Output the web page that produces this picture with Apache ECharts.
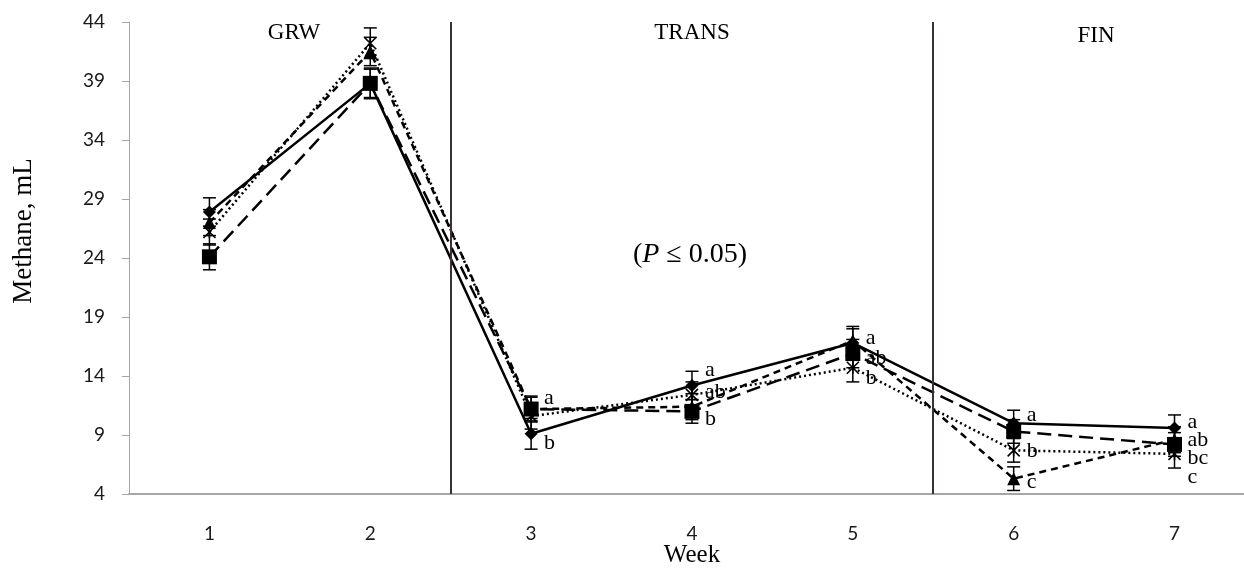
<!DOCTYPE html>
<html>
<head>
<meta charset="utf-8">
<title>Methane by week</title>
<script src="https://cdn.jsdelivr.net/npm/echarts@6/dist/echarts.min.js"></script>
<style>
  html, body { margin: 0; padding: 0; background: #fff; }
  #chart { width: 1244px; height: 569px; }
</style>
</head>
<body>
<div id="chart"></div>
<script>
// Weeks on the x axis and the methane readings (mL) per treatment
const weeks = [1, 2, 3, 4, 5, 6, 7];
const yTicks = [4, 9, 14, 19, 24, 29, 34, 39, 44];

const diamondVals  = [27.9, 38.8, 9.1, 13.2, 16.8, 10.0, 9.6];
const squareVals   = [24.1, 38.8, 11.2, 11.0, 15.9, 9.3, 8.2];
const triangleVals = [27.0, 41.5, 11.2, 11.4, 17.0, 5.3, 8.6];
const crossVals    = [26.2, 42.2, 10.6, 12.4, 14.7, 7.7, 7.4];

// Standard errors drawn as whiskers
const diamondSE  = [1.2, 1.2, 1.3, 1.2, 1.2, 1.1, 1.1];
const squareSE   = [1.1, 1.3, 1.0, 1.0, 1.2, 1.0, 1.0];
const triangleSE = [1.1, 1.2, 1.1, 1.1, 1.2, 1.0, 1.1];
const crossSE    = [1.1, 1.3, 1.1, 1.1, 1.2, 1.0, 1.2];

// Significance letters: week, anchor value, letter
const sigWeeks   = [3, 3, 4, 4, 4, 5, 5, 5, 6, 6, 6, 7, 7, 7, 7];
const sigValues  = [12.1, 8.3, 14.5, 12.6, 10.3, 17.2, 15.5, 13.8, 10.7, 7.6, 5.0, 10.1, 8.6, 7.05, 5.4];
const sigLetters = ['a', 'b', 'a', 'ab', 'b', 'a', 'ab', 'b', 'a', 'b', 'c', 'a', 'ab', 'bc', 'c'];

// Phase boundaries and names
const phaseBreaks = [2.5, 5.5];
const phaseNames = ['GRW', 'TRANS', 'FIN'];

// Visible week range: half a week before week 1, axis runs off the right edge
const X_MIN = 0.5;
const X_MAX = 7.432;

const SERIF = "'Liberation Serif', 'Times New Roman', serif";
const SANS = "Lato, 'Liberation Sans', sans-serif";

const chart = echarts.init(document.getElementById('chart'));

function pairs(vals) { return weeks.map((w, i) => [w, vals[i]]); }

function errData(vals, se) {
  return weeks.map((w, i) => [w, vals[i] - se[i], vals[i] + se[i]]);
}

function errorSeries(vals, se) {
  return {
    type: 'custom',
    silent: true,
    z: 2,
    data: errData(vals, se),
    renderItem(params, api) {
      const x = api.value(0);
      const lo = api.coord([x, api.value(1)]);
      const hi = api.coord([x, api.value(2)]);
      const w = 6.5;
      const st = { stroke: '#000', lineWidth: 1.5 };
      return {
        type: 'group',
        children: [
          { type: 'line', shape: { x1: lo[0], y1: lo[1], x2: hi[0], y2: hi[1] }, style: st },
          { type: 'line', shape: { x1: lo[0] - w, y1: lo[1], x2: lo[0] + w, y2: lo[1] }, style: st },
          { type: 'line', shape: { x1: hi[0] - w, y1: hi[1], x2: hi[0] + w, y2: hi[1] }, style: st }
        ]
      };
    }
  };
}

function lineSeries(vals, symbol, size, dash, extra) {
  return Object.assign({
    type: 'line',
    data: pairs(vals),
    symbol: symbol,
    symbolSize: size,
    z: 3,
    lineStyle: { color: '#000', width: 2.5, type: dash },
    itemStyle: { color: '#000' },
    emphasis: { disabled: true },
    animation: false
  }, extra || {});
}

const option = {
  animation: false,
  grid: { left: 129, right: 0, top: 22, bottom: 75, containLabel: false },
  xAxis: {
    type: 'value',
    min: X_MIN,
    max: X_MAX,
    axisLine: { show: true, lineStyle: { color: '#a6a6a6', width: 2 } },
    axisTick: { show: false },
    splitLine: { show: false },
    axisLabel: {
      customValues: weeks,
      margin: 30,
      color: '#1a1a1a',
      fontFamily: SANS,
      fontSize: 19
    }
  },
  yAxis: {
    type: 'value',
    min: 4,
    max: 44,
    axisLine: { show: true, lineStyle: { color: '#a6a6a6', width: 1 } },
    axisTick: { show: true, customValues: yTicks, length: 7, lineStyle: { color: '#a6a6a6' } },
    splitLine: { show: false },
    axisLabel: {
      customValues: yTicks,
      margin: 24,
      color: '#1a1a1a',
      fontFamily: SANS,
      fontSize: 19
    }
  },
  graphic: [
    {
      type: 'text', x: 24, y: 231, rotation: Math.PI / 2,
      style: { text: 'Methane, mL', fontFamily: SERIF, fontSize: 27, fill: '#000', align: 'center', verticalAlign: 'middle' }
    },
    {
      type: 'text', x: 692, y: 555,
      style: { text: 'Week', fontFamily: SERIF, fontSize: 25, fill: '#000', align: 'center', verticalAlign: 'middle' }
    },
    {
      type: 'text', x: 294, y: 33,
      style: { text: phaseNames[0], fontFamily: SERIF, fontSize: 23, fill: '#000', align: 'center', verticalAlign: 'middle' }
    },
    {
      type: 'text', x: 692, y: 33,
      style: { text: phaseNames[1], fontFamily: SERIF, fontSize: 23, fill: '#000', align: 'center', verticalAlign: 'middle' }
    },
    {
      type: 'text', x: 1096, y: 36,
      style: { text: phaseNames[2], fontFamily: SERIF, fontSize: 23, fill: '#000', align: 'center', verticalAlign: 'middle' }
    },
    {
      type: 'text', x: 690, y: 255,
      style: {
        text: '({it|P} ≤ 0.05)',
        fontFamily: SERIF, fontSize: 28, fill: '#000', align: 'center', verticalAlign: 'middle',
        rich: { it: { fontFamily: SERIF, fontSize: 28, fontStyle: 'italic', fill: '#000' } }
      }
    }
  ],
  series: [
    {
      type: 'line',
      data: [],
      silent: true,
      markLine: {
        silent: true,
        symbol: 'none',
        label: { show: false },
        lineStyle: { color: '#3a3232', width: 2, type: 'solid' },
        data: phaseBreaks.map(v => ({ xAxis: v }))
      }
    },
    errorSeries(triangleVals, triangleSE),
    errorSeries(crossVals, crossSE),
    errorSeries(diamondVals, diamondSE),
    errorSeries(squareVals, squareSE),
    lineSeries(triangleVals, 'triangle', 13, [7, 5]),
    lineSeries(crossVals, 'path://M0,0L10,10M10,0L0,10M5,0L5,10', 12, [2, 3], {
      itemStyle: { color: 'none', borderColor: '#000', borderWidth: 1.6 }
    }),
    lineSeries(diamondVals, 'diamond', 13, 'solid'),
    lineSeries(squareVals, 'rect', 15, [14, 7]),
    {
      type: 'custom',
      silent: true,
      z: 5,
      data: sigWeeks.map((w, i) => [w, sigValues[i]]),
      renderItem(params, api) {
        const p = api.coord([api.value(0), api.value(1)]);
        return {
          type: 'text',
          x: p[0] + 13,
          y: p[1],
          style: {
            text: sigLetters[params.dataIndex],
            fontFamily: SERIF,
            fontSize: 22,
            fill: '#000',
            align: 'left',
            verticalAlign: 'middle'
          }
        };
      }
    }
  ]
};

chart.setOption(option);
</script>
</body>
</html>
